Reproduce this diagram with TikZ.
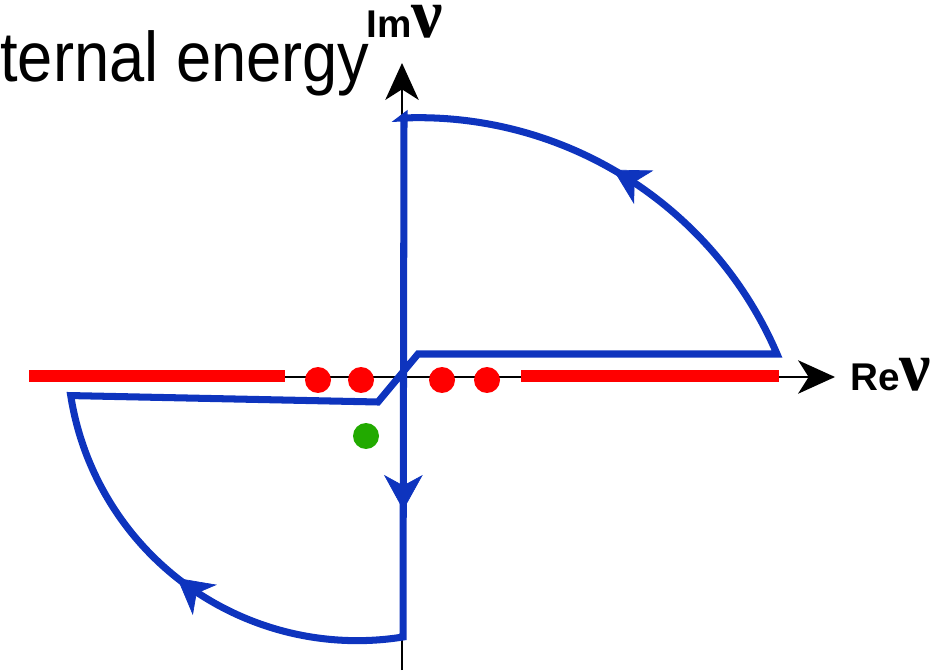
\documentclass[tikz,border=0pt]{standalone}
\usepackage{fontspec}
\setmainfont{Liberation Sans}
\newfontfamily\nufont{Liberation Serif}
\usepackage{graphicx}
\usepackage{tikz}
\usetikzlibrary{arrows.meta,positioning,decorations.markings}
\definecolor{contblue}{RGB}{14,52,190}
\definecolor{polegreen}{RGB}{34,170,0}
\newcommand{\bnu}{{\nufont\bfseries\fontsize{40}{44}\selectfont ν}}

\begin{document}
\begin{tikzpicture}[x=0.02cm, y=0.02cm,
      ax/.style={-{Stealth[length=21pt,width=19pt,inset=6pt]}, line width=1.1pt},
      cut/.style={draw=red, line width=6.8pt},
      pole/.style={circle, fill=red, inner sep=0pt, minimum size=0.52cm},
      cont/.style={draw=contblue, line width=4pt, line join=miter},
      midarr/.style={postaction={decorate}, decoration={markings,
                     mark=at position #1 with {\arrow[contblue]{Stealth[length=20pt,width=22pt,inset=6pt]}}}},
      lab/.style={inner sep=0pt, font=\fontsize{22}{26}\selectfont\bfseries}
  ]
    \useasboundingbox (0,0) rectangle (946,670);
    \node[anchor=base west, inner sep=0pt, font=\fontsize{40}{48}\selectfont]
      (title) at (0,588) {\scalebox{0.9}[1]{ternal energy}};
    % axes
    \coordinate (xs) at (30,293);  \coordinate (xe) at (835,293);
    \coordinate (ys) at (402,0);   \coordinate (ye) at (402,607);
    \draw[ax] (xs) -- (xe);
    \draw[ax] (ys) -- (ye);
    \node[lab, anchor=base west] (im) at (366,632) {Im\bnu};
    \node[lab, anchor=base west] (re) at (850,280) {Re\bnu};
    % cuts and poles
    \coordinate (l1) at (29,294);  \coordinate (l2) at (285,294);
    \coordinate (r1) at (521,294); \coordinate (r2) at (779,294);
    \draw[cut] (l1) -- (l2);
    \draw[cut] (r1) -- (r2);
    \foreach \px/\nm in {318/p1, 361/p2, 442/p3, 487/p4}
      \node[pole] (\nm) at (\px,290) {};
    \node[pole, fill=polegreen] (g1) at (366,234) {};
    % contour
    \coordinate (A) at (404,553); \coordinate (B) at (403,33);
    \coordinate (D) at (378,268); \coordinate (E) at (418,316);
    \coordinate (F) at (777,316);
    \draw[cont] (A) -- (B) arc[start angle=279.1, end angle=188.9, radius=5.8cm] coordinate (C)
      -- (D) -- (E) -- (F) arc[start angle=23.2, end angle=92.35, radius=7.8cm] -- cycle;
    \path[midarr=0.756] (A) -- (B);
    \path[midarr=0.526] (B) arc[start angle=279.1, end angle=188.9, radius=5.8cm];
    \path[midarr=0.533] (F) arc[start angle=23.2, end angle=92.35, radius=7.8cm];
  \end{tikzpicture}
\end{document}
